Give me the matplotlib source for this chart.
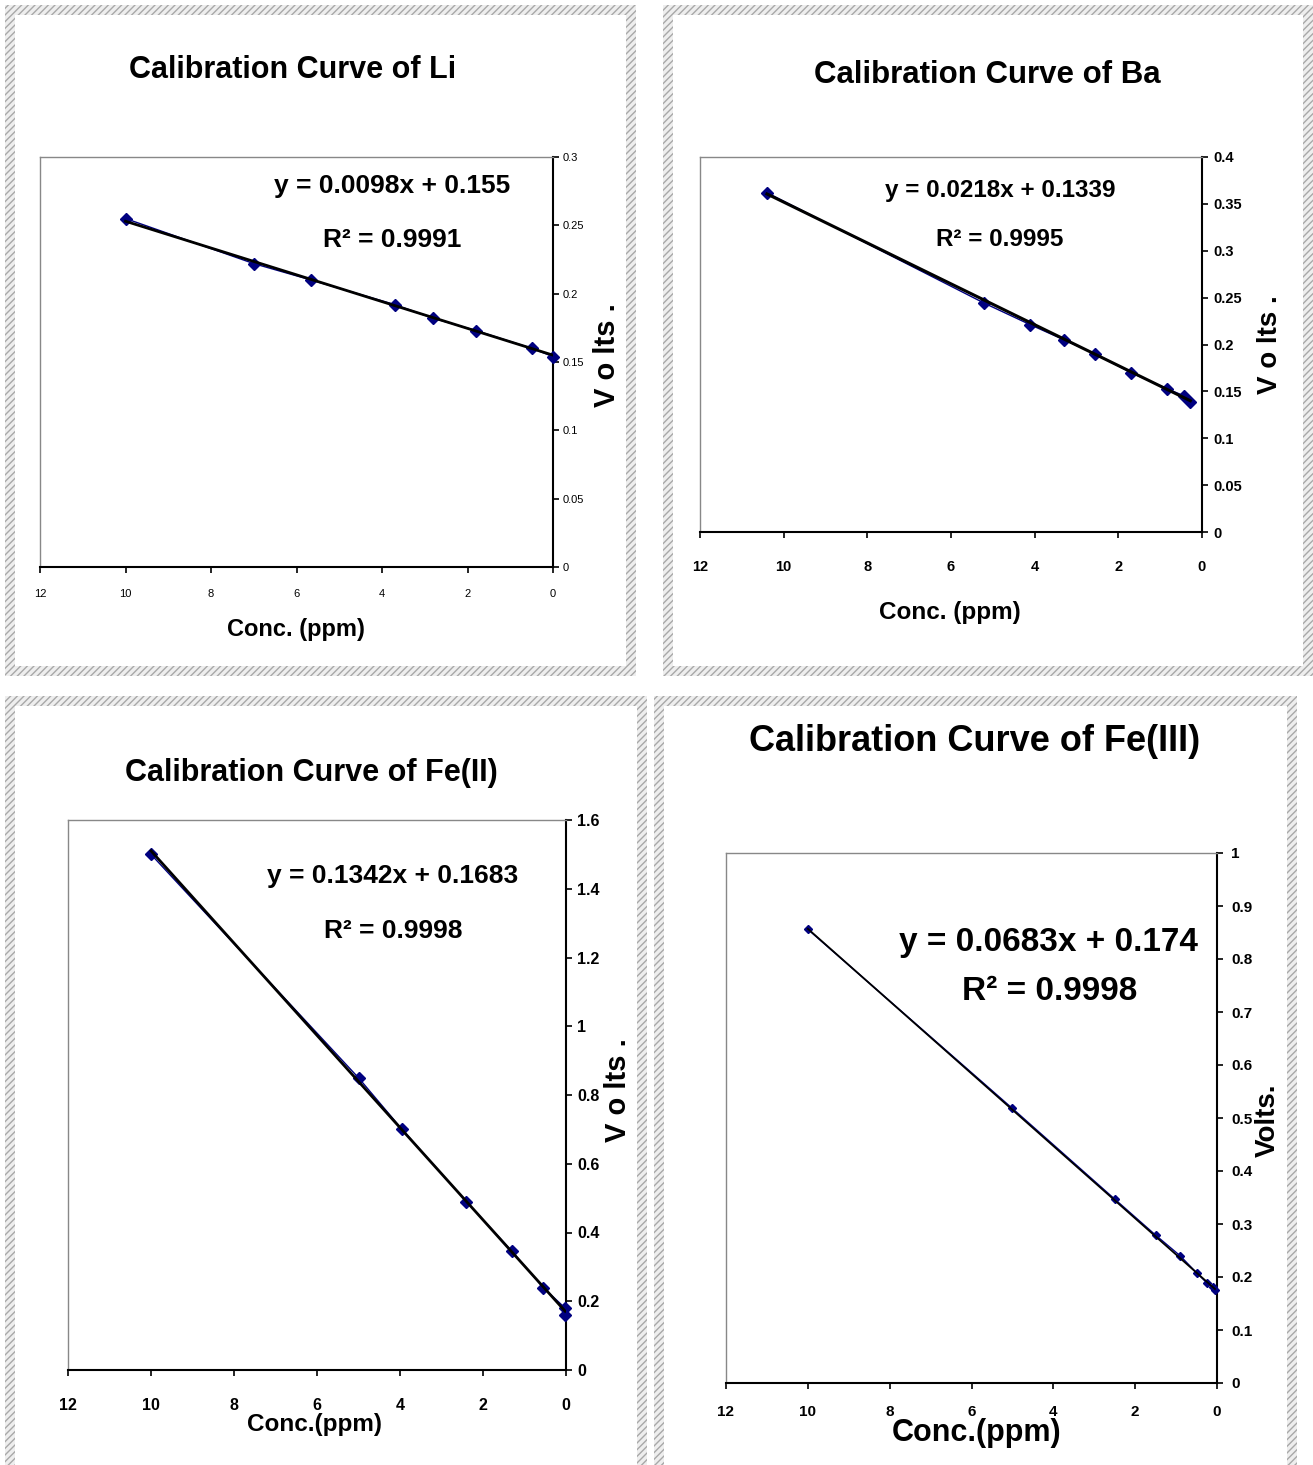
import matplotlib
matplotlib.use("Agg")
import matplotlib.pyplot as plt
from matplotlib.patches import Rectangle
from matplotlib.ticker import MultipleLocator, FuncFormatter
import numpy as np

W, H = 1313, 1465
ARIAL = ["Liberation Sans", "DejaVu Sans"]
NAVY = "#000080"

# calibration data (concentration in ppm, signal in volts)
li_x = [10, 7, 5.66, 3.7, 2.8, 1.8, 0.5, 0]
li_y = [0.255, 0.222, 0.210, 0.192, 0.182, 0.173, 0.160, 0.154]
li_fit = (0.0098, 0.155, 0.9991)

ba_x = [10.4, 5.2, 4.1, 3.3, 2.55, 1.7, 0.84, 0.42, 0.28]
ba_y = [0.362, 0.244, 0.221, 0.205, 0.190, 0.170, 0.153, 0.145, 0.139]
ba_fit = (0.0218, 0.1339, 0.9995)

fe2_x = [10, 5, 3.95, 2.4, 1.3, 0.55, 0.02, 0.02]
fe2_y = [1.50, 0.85, 0.70, 0.49, 0.345, 0.24, 0.18, 0.16]
fe2_fit = (0.1342, 0.1683, 0.9998)

fe3_x = [10, 5, 2.5, 1.5, 0.9, 0.5, 0.25, 0.1, 0.05]
fe3_y = [0.856, 0.518, 0.347, 0.279, 0.240, 0.208, 0.189, 0.181, 0.176]
fe3_fit = (0.0683, 0.174, 0.9998)


def fx(x):
    return x / W


def fy(y):
    return 1 - y / H


def frame(fig, x0, y0, x1, y1, band=10):
    """hatched border around one chart"""
    fig.patches.append(Rectangle((fx(x0), fy(y1)), fx(x1 - x0), (y1 - y0) / H,
                                 transform=fig.transFigure, facecolor="#eeeeee",
                                 edgecolor="#a8a8a8", hatch="/////", lw=0, zorder=-2))
    fig.patches.append(Rectangle((fx(x0 + band), fy(y1 - band)), fx(x1 - x0 - 2 * band),
                                 (y1 - y0 - 2 * band) / H, transform=fig.transFigure,
                                 facecolor="white", lw=0, zorder=-1))


def label(fig, x, y, s, size, rot=0):
    fig.text(fx(x), fy(y), s, family=ARIAL, weight="bold", fontsize=size,
             ha="center", va="center", rotation=rot)


def panel(fig, box, x, y, fit, ymax, ystep, style):
    x0, y0, x1, y1 = box
    ax = fig.add_axes([fx(x0), fy(y1), fx(x1 - x0), (y1 - y0) / H])
    m, b, r2 = fit
    xs = np.array([min(x), max(x)])
    ax.plot(x, y, "-", color=NAVY, lw=1, marker="D", ms=style["ms"],
            mfc=NAVY, mec=NAVY, zorder=3, clip_on=False)
    ax.plot(xs, m * xs + b, "-", color="black", lw=style["lw"], zorder=4)
    ax.set_xlim(12, 0)
    ax.set_ylim(0, ymax)
    ax.xaxis.set_major_locator(MultipleLocator(2))
    ax.yaxis.set_major_locator(MultipleLocator(ystep))
    ax.yaxis.set_major_formatter(FuncFormatter(lambda v, p: f"{v:.2f}".rstrip("0").rstrip(".")))
    ax.xaxis.set_major_formatter(FuncFormatter(lambda v, p: f"{v:g}"))
    ax.yaxis.tick_right()
    for s in ("left", "top"):
        ax.spines[s].set_color("#888888")
        ax.spines[s].set_linewidth(1)
    for s in ("right", "bottom"):
        ax.spines[s].set_color("black")
        ax.spines[s].set_linewidth(1.5)
    ax.tick_params(axis="x", direction="out", length=4, width=1.2, pad=style["xpad"])
    ax.tick_params(axis="y", direction="out", length=4, width=1.2, pad=style["ypad"])
    for lab in ax.get_xticklabels() + ax.get_yticklabels():
        lab.set_family(ARIAL)
        lab.set_fontsize(style["ticksize"])
        lab.set_fontweight(style["tickweight"])
    return ax


fig = plt.figure(figsize=(W / 100, H / 100), dpi=100)

frame(fig, 5, 5, 636, 676)
frame(fig, 663, 5, 1313, 676)
frame(fig, 5, 696, 647, 1480)
frame(fig, 654, 696, 1297, 1480)

# Li
panel(fig, (40, 157, 553, 567), li_x, li_y, li_fit, 0.3, 0.05,
      dict(ms=6, lw=2.0, xpad=12, ypad=3, ticksize=8, tickweight="normal"))
label(fig, 293, 70, "Calibration Curve of Li", 22)
label(fig, 392, 186, f"y = {li_fit[0]}x + {li_fit[1]}", 19)
label(fig, 392, 240, f"R² = {li_fit[2]}", 19)
label(fig, 296, 630, "Conc. (ppm)", 17)
label(fig, 607, 355, "V o lts .", 21, rot=90)

# Ba
panel(fig, (700, 157, 1202, 532), ba_x, ba_y, ba_fit, 0.4, 0.05,
      dict(ms=6, lw=2.2, xpad=16, ypad=4, ticksize=10.5, tickweight="bold"))
label(fig, 987, 75, "Calibration Curve of Ba", 22.5)
label(fig, 1000, 191, f"y = {ba_fit[0]}x + {ba_fit[1]}", 17.5)
label(fig, 1000, 240, f"R² = {ba_fit[2]}", 17.5)
label(fig, 950, 612, "Conc. (ppm)", 17.5)
label(fig, 1270, 345, "V o lts .", 20, rot=90)

# Fe(II)
panel(fig, (68, 820, 566, 1370), fe2_x, fe2_y, fe2_fit, 1.6, 0.2,
      dict(ms=6, lw=2.0, xpad=16, ypad=4, ticksize=11.5, tickweight="bold"))
label(fig, 311, 773, "Calibration Curve of Fe(II)", 22)
label(fig, 393, 876, f"y = {fe2_fit[0]}x + {fe2_fit[1]}", 19)
label(fig, 393, 931, f"R² = {fe2_fit[2]}", 19)
label(fig, 315, 1425, "Conc.(ppm)", 17.5)
label(fig, 618, 1090, "V o lts .", 21, rot=90)

# Fe(III)
panel(fig, (726, 853, 1217, 1383), fe3_x, fe3_y, fe3_fit, 1.0, 0.1,
      dict(ms=4, lw=1.3, xpad=12, ypad=6, ticksize=11, tickweight="bold"))
label(fig, 975, 741, "Calibration Curve of Fe(III)", 26)
label(fig, 1048, 943, f"y = {fe3_fit[0]}x + {fe3_fit[1]}", 24)
label(fig, 1050, 992, f"R² = {fe3_fit[2]}", 24)
label(fig, 977, 1433, "Conc.(ppm)", 22)
label(fig, 1268, 1120, "Volts.", 20, rot=90)

fig.savefig("out.png", dpi=100)
